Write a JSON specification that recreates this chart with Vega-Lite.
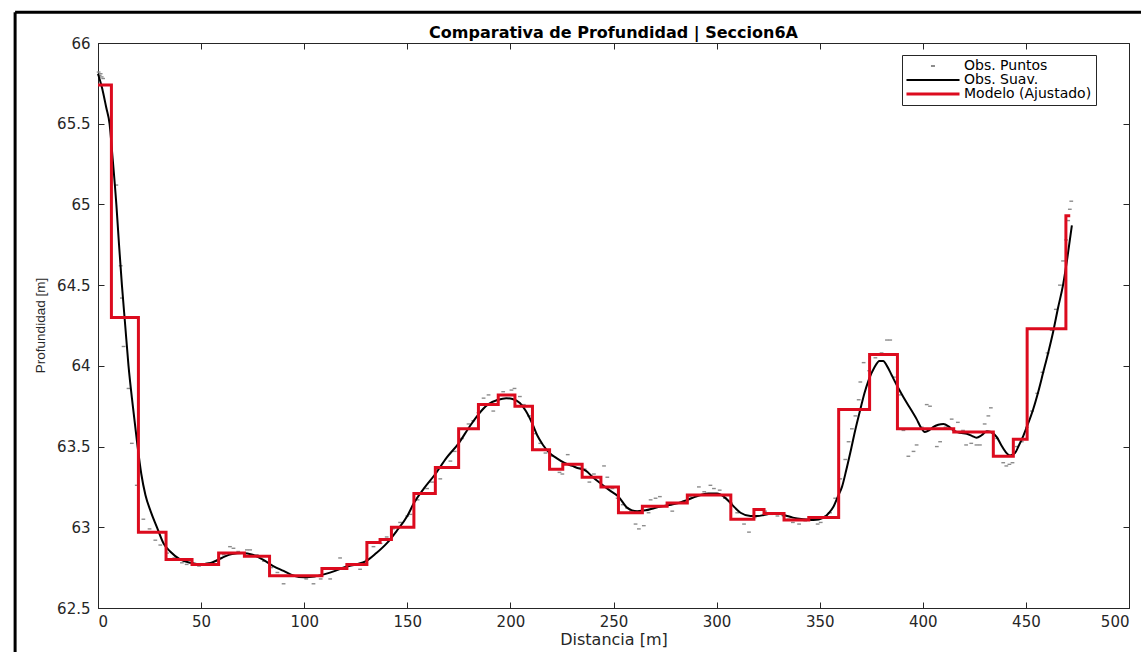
{
  "$schema": "https://vega.github.io/schema/vega-lite/v6.json",
  "width": 1031,
  "height": 565,
  "autosize": "none",
  "padding": {"left": 98, "top": 43, "right": 12, "bottom": 44},
  "background": "white",
  "title": {"text": "Comparativa de Profundidad | Seccion6A", "font": "DejaVu Sans", "fontSize": 16, "fontWeight": "bold", "color": "#000000", "anchor": "middle", "offset": 5, "dy": 35},
  "config": {
    "view": {"stroke": "#262626", "strokeWidth": 1},
    "axis": {"labelFont": "DejaVu Sans", "labelFontSize": 15, "labelColor": "#262626", "titleFont": "DejaVu Sans", "titleFontSize": 16, "titleFontWeight": "normal", "titleColor": "#262626", "domainColor": "#262626", "tickColor": "#262626", "gridColor": "#e3e3e3", "gridWidth": 1},
    "legend": {"labelFont": "DejaVu Sans", "labelFontSize": 14, "labelColor": "#000000"}
  },
  "datasets": {
    "obs": [
      {"d": 0.3, "v": 65.82}, {"d": 0.8, "v": 65.8}, {"d": 1.3, "v": 65.81}, {"d": 1.8, "v": 65.79}, {"d": 2.5, "v": 65.78},
      {"d": 8.9, "v": 65.12}, {"d": 11.0, "v": 64.62}, {"d": 11.6, "v": 64.42}, {"d": 12.4, "v": 64.12}, {"d": 14.8, "v": 63.86},
      {"d": 16.4, "v": 63.52}, {"d": 18.8, "v": 63.26}, {"d": 22.0, "v": 63.05}, {"d": 25.0, "v": 62.99}, {"d": 27.8, "v": 62.92},
      {"d": 30.2, "v": 62.89}, {"d": 33.5, "v": 62.84}, {"d": 37.0, "v": 62.81}, {"d": 40.7, "v": 62.78}, {"d": 43.0, "v": 62.77},
      {"d": 46.0, "v": 62.77}, {"d": 49.0, "v": 62.76}, {"d": 53.0, "v": 62.78}, {"d": 57.0, "v": 62.79}, {"d": 61.0, "v": 62.83},
      {"d": 64.0, "v": 62.88}, {"d": 65.7, "v": 62.87}, {"d": 68.0, "v": 62.85}, {"d": 72.2, "v": 62.86}, {"d": 73.8, "v": 62.86},
      {"d": 77.0, "v": 62.83}, {"d": 80.5, "v": 62.79}, {"d": 84.0, "v": 62.75}, {"d": 87.0, "v": 62.72}, {"d": 90.0, "v": 62.65},
      {"d": 94.8, "v": 62.7}, {"d": 98.0, "v": 62.69}, {"d": 101.0, "v": 62.68}, {"d": 104.5, "v": 62.65}, {"d": 108.0, "v": 62.68},
      {"d": 112.6, "v": 62.68}, {"d": 115.0, "v": 62.74}, {"d": 117.4, "v": 62.81}, {"d": 121.0, "v": 62.76}, {"d": 124.0, "v": 62.77},
      {"d": 127.1, "v": 62.74}, {"d": 130.5, "v": 62.8}, {"d": 133.6, "v": 62.88}, {"d": 137.0, "v": 62.9}, {"d": 140.0, "v": 62.94},
      {"d": 143.0, "v": 62.99}, {"d": 146.5, "v": 63.03}, {"d": 150.0, "v": 63.07}, {"d": 151.6, "v": 63.08}, {"d": 155.0, "v": 63.17},
      {"d": 159.6, "v": 63.24}, {"d": 162.0, "v": 63.28}, {"d": 166.0, "v": 63.3}, {"d": 168.5, "v": 63.37}, {"d": 170.9, "v": 63.41},
      {"d": 173.0, "v": 63.47}, {"d": 176.5, "v": 63.55}, {"d": 179.7, "v": 63.64}, {"d": 182.0, "v": 63.66}, {"d": 184.5, "v": 63.71},
      {"d": 187.0, "v": 63.8}, {"d": 189.4, "v": 63.82}, {"d": 191.7, "v": 63.72}, {"d": 194.0, "v": 63.79}, {"d": 196.5, "v": 63.84},
      {"d": 198.5, "v": 63.82}, {"d": 200.5, "v": 63.85}, {"d": 202.0, "v": 63.86}, {"d": 204.6, "v": 63.81}, {"d": 206.5, "v": 63.76},
      {"d": 209.0, "v": 63.69}, {"d": 212.0, "v": 63.58}, {"d": 214.5, "v": 63.52}, {"d": 217.0, "v": 63.46}, {"d": 220.0, "v": 63.44},
      {"d": 223.8, "v": 63.34}, {"d": 225.2, "v": 63.33}, {"d": 227.8, "v": 63.45}, {"d": 230.5, "v": 63.39}, {"d": 233.5, "v": 63.37},
      {"d": 236.0, "v": 63.36}, {"d": 238.3, "v": 63.28}, {"d": 240.5, "v": 63.33}, {"d": 243.0, "v": 63.31}, {"d": 245.4, "v": 63.38},
      {"d": 247.0, "v": 63.31}, {"d": 249.5, "v": 63.24}, {"d": 252.0, "v": 63.18}, {"d": 254.5, "v": 63.14}, {"d": 256.5, "v": 63.12},
      {"d": 258.5, "v": 63.1}, {"d": 260.7, "v": 63.02}, {"d": 262.3, "v": 62.99}, {"d": 264.7, "v": 63.01}, {"d": 267.0, "v": 63.09},
      {"d": 268.0, "v": 63.17}, {"d": 270.4, "v": 63.18}, {"d": 272.5, "v": 63.19}, {"d": 275.0, "v": 63.13}, {"d": 278.5, "v": 63.1},
      {"d": 281.0, "v": 63.15}, {"d": 284.0, "v": 63.16}, {"d": 287.0, "v": 63.19}, {"d": 289.0, "v": 63.2}, {"d": 291.4, "v": 63.25},
      {"d": 294.0, "v": 63.22}, {"d": 297.0, "v": 63.26}, {"d": 298.7, "v": 63.24}, {"d": 301.5, "v": 63.23}, {"d": 304.0, "v": 63.18},
      {"d": 307.0, "v": 63.15}, {"d": 310.0, "v": 63.09}, {"d": 313.3, "v": 63.02}, {"d": 315.7, "v": 62.97}, {"d": 318.5, "v": 63.06},
      {"d": 322.0, "v": 63.11}, {"d": 323.5, "v": 63.1}, {"d": 326.5, "v": 63.08}, {"d": 329.5, "v": 63.07}, {"d": 332.5, "v": 63.07},
      {"d": 335.0, "v": 63.05}, {"d": 337.0, "v": 63.03}, {"d": 340.0, "v": 63.02}, {"d": 343.0, "v": 63.04}, {"d": 346.0, "v": 63.05},
      {"d": 349.0, "v": 63.02}, {"d": 350.5, "v": 63.03}, {"d": 353.0, "v": 63.07}, {"d": 355.0, "v": 63.09}, {"d": 357.5, "v": 63.18},
      {"d": 360.0, "v": 63.3}, {"d": 362.4, "v": 63.42}, {"d": 364.0, "v": 63.53}, {"d": 365.6, "v": 63.61}, {"d": 367.3, "v": 63.69},
      {"d": 368.9, "v": 63.79}, {"d": 369.7, "v": 63.9}, {"d": 371.3, "v": 64.02}, {"d": 374.0, "v": 63.97}, {"d": 377.0, "v": 64.05},
      {"d": 380.0, "v": 64.08}, {"d": 382.6, "v": 64.16}, {"d": 384.2, "v": 64.16}, {"d": 386.0, "v": 63.93}, {"d": 388.5, "v": 63.82},
      {"d": 390.6, "v": 63.6}, {"d": 393.0, "v": 63.44}, {"d": 395.5, "v": 63.47}, {"d": 397.0, "v": 63.51}, {"d": 399.5, "v": 63.62},
      {"d": 401.9, "v": 63.76}, {"d": 403.5, "v": 63.75}, {"d": 406.8, "v": 63.5}, {"d": 408.4, "v": 63.53}, {"d": 411.0, "v": 63.62},
      {"d": 414.0, "v": 63.67}, {"d": 417.0, "v": 63.65}, {"d": 419.5, "v": 63.6}, {"d": 421.0, "v": 63.51}, {"d": 423.5, "v": 63.52},
      {"d": 426.0, "v": 63.51}, {"d": 427.7, "v": 63.51}, {"d": 430.0, "v": 63.64}, {"d": 431.8, "v": 63.69}, {"d": 433.0, "v": 63.74},
      {"d": 436.0, "v": 63.55}, {"d": 439.0, "v": 63.4}, {"d": 440.5, "v": 63.38}, {"d": 442.0, "v": 63.39}, {"d": 443.5, "v": 63.4},
      {"d": 445.5, "v": 63.5}, {"d": 448.0, "v": 63.53}, {"d": 450.5, "v": 63.62}, {"d": 453.0, "v": 63.72}, {"d": 455.5, "v": 63.83},
      {"d": 458.0, "v": 63.96}, {"d": 460.5, "v": 64.08}, {"d": 462.5, "v": 64.22}, {"d": 464.5, "v": 64.35}, {"d": 466.5, "v": 64.5},
      {"d": 468.0, "v": 64.65}, {"d": 469.5, "v": 64.78}, {"d": 470.5, "v": 64.9}, {"d": 471.3, "v": 64.97}, {"d": 472.0, "v": 65.02}
    ],
    "smooth": [
      {"d": 0, "v": 65.81}, {"d": 2, "v": 65.72}, {"d": 4, "v": 65.6}, {"d": 5.6, "v": 65.5}, {"d": 7, "v": 65.3},
      {"d": 8.9, "v": 65.0}, {"d": 10.2, "v": 64.75}, {"d": 11.6, "v": 64.5}, {"d": 13.2, "v": 64.25}, {"d": 14.8, "v": 64.0},
      {"d": 17, "v": 63.74}, {"d": 19.2, "v": 63.5}, {"d": 21, "v": 63.33}, {"d": 23, "v": 63.2}, {"d": 25.5, "v": 63.1},
      {"d": 28.6, "v": 63.0}, {"d": 31.8, "v": 62.9}, {"d": 35, "v": 62.85}, {"d": 40, "v": 62.8}, {"d": 45, "v": 62.78},
      {"d": 50, "v": 62.77}, {"d": 55, "v": 62.78}, {"d": 60, "v": 62.81}, {"d": 65, "v": 62.835}, {"d": 70, "v": 62.84},
      {"d": 75, "v": 62.83}, {"d": 80, "v": 62.8}, {"d": 85, "v": 62.76}, {"d": 90, "v": 62.73}, {"d": 95, "v": 62.7},
      {"d": 100, "v": 62.69}, {"d": 105, "v": 62.695}, {"d": 110, "v": 62.71}, {"d": 115, "v": 62.73}, {"d": 120, "v": 62.755},
      {"d": 125, "v": 62.77}, {"d": 130, "v": 62.79}, {"d": 135, "v": 62.84}, {"d": 140, "v": 62.9}, {"d": 145, "v": 62.98},
      {"d": 150, "v": 63.07}, {"d": 153.2, "v": 63.15}, {"d": 158, "v": 63.24}, {"d": 163.6, "v": 63.33}, {"d": 169, "v": 63.43},
      {"d": 174.9, "v": 63.52}, {"d": 180, "v": 63.62}, {"d": 184.5, "v": 63.7}, {"d": 189, "v": 63.76}, {"d": 194, "v": 63.79},
      {"d": 198, "v": 63.8}, {"d": 201, "v": 63.795}, {"d": 204.6, "v": 63.77}, {"d": 207.5, "v": 63.72}, {"d": 210.7, "v": 63.64},
      {"d": 213, "v": 63.57}, {"d": 215.8, "v": 63.51}, {"d": 219, "v": 63.46}, {"d": 222.2, "v": 63.43}, {"d": 226, "v": 63.4},
      {"d": 230, "v": 63.38}, {"d": 233, "v": 63.365}, {"d": 236.7, "v": 63.35}, {"d": 240, "v": 63.31}, {"d": 243.9, "v": 63.27},
      {"d": 248, "v": 63.23}, {"d": 252.4, "v": 63.19}, {"d": 256.7, "v": 63.12}, {"d": 259, "v": 63.105}, {"d": 261.5, "v": 63.1},
      {"d": 265.6, "v": 63.105}, {"d": 270, "v": 63.12}, {"d": 273.6, "v": 63.13}, {"d": 278, "v": 63.14}, {"d": 281.6, "v": 63.15},
      {"d": 285.8, "v": 63.17}, {"d": 292.3, "v": 63.2}, {"d": 296, "v": 63.21}, {"d": 300.3, "v": 63.21}, {"d": 303.5, "v": 63.19},
      {"d": 306.8, "v": 63.15}, {"d": 309, "v": 63.12}, {"d": 311.6, "v": 63.09}, {"d": 316.4, "v": 63.07}, {"d": 320, "v": 63.07},
      {"d": 322.9, "v": 63.076}, {"d": 326, "v": 63.084}, {"d": 329.3, "v": 63.086}, {"d": 333, "v": 63.075}, {"d": 337, "v": 63.06},
      {"d": 342, "v": 63.05}, {"d": 347, "v": 63.045}, {"d": 352, "v": 63.06}, {"d": 354.5, "v": 63.09}, {"d": 356.8, "v": 63.13},
      {"d": 358.8, "v": 63.19}, {"d": 360.8, "v": 63.25}, {"d": 362.8, "v": 63.35}, {"d": 364.8, "v": 63.46}, {"d": 367.2, "v": 63.6},
      {"d": 369.7, "v": 63.73}, {"d": 371.7, "v": 63.83}, {"d": 373.7, "v": 63.91}, {"d": 376.5, "v": 63.99}, {"d": 379, "v": 64.03},
      {"d": 380.8, "v": 64.03}, {"d": 382.6, "v": 64.0}, {"d": 385, "v": 63.94}, {"d": 387.4, "v": 63.88}, {"d": 390, "v": 63.82},
      {"d": 392.3, "v": 63.77}, {"d": 394.7, "v": 63.72}, {"d": 397, "v": 63.67}, {"d": 399, "v": 63.62}, {"d": 401, "v": 63.59},
      {"d": 403, "v": 63.6}, {"d": 405, "v": 63.62}, {"d": 407.5, "v": 63.635}, {"d": 410, "v": 63.64}, {"d": 412.5, "v": 63.625},
      {"d": 414.8, "v": 63.6}, {"d": 418, "v": 63.585}, {"d": 421.3, "v": 63.58}, {"d": 424, "v": 63.565}, {"d": 426, "v": 63.555},
      {"d": 428.5, "v": 63.57}, {"d": 431, "v": 63.595}, {"d": 433, "v": 63.59}, {"d": 435.8, "v": 63.56}, {"d": 438, "v": 63.51},
      {"d": 440, "v": 63.47}, {"d": 442.3, "v": 63.445}, {"d": 444.7, "v": 63.46}, {"d": 446.7, "v": 63.51}, {"d": 448.7, "v": 63.565},
      {"d": 451, "v": 63.64}, {"d": 453.5, "v": 63.73}, {"d": 456, "v": 63.84}, {"d": 458.4, "v": 63.96}, {"d": 460.8, "v": 64.08},
      {"d": 463.2, "v": 64.21}, {"d": 465.6, "v": 64.36}, {"d": 468, "v": 64.5}, {"d": 470, "v": 64.66}, {"d": 472.3, "v": 64.87}
    ],
    "model": [
      {"d": 0, "v": 65.74}, {"d": 6.5, "v": 64.3}, {"d": 19.6, "v": 62.97}, {"d": 33, "v": 62.8}, {"d": 45.6, "v": 62.77},
      {"d": 58.5, "v": 62.84}, {"d": 71, "v": 62.82}, {"d": 83.2, "v": 62.7}, {"d": 108.6, "v": 62.745}, {"d": 120.7, "v": 62.77},
      {"d": 130.4, "v": 62.905}, {"d": 136.8, "v": 62.925}, {"d": 142.3, "v": 63.0}, {"d": 153.2, "v": 63.21}, {"d": 163.6, "v": 63.37},
      {"d": 174.9, "v": 63.61}, {"d": 184.5, "v": 63.76}, {"d": 194.1, "v": 63.82}, {"d": 202.2, "v": 63.75}, {"d": 210.7, "v": 63.48},
      {"d": 219, "v": 63.36}, {"d": 225.4, "v": 63.39}, {"d": 234.8, "v": 63.31}, {"d": 243.9, "v": 63.25}, {"d": 252.4, "v": 63.09},
      {"d": 264, "v": 63.13}, {"d": 276, "v": 63.15}, {"d": 285.8, "v": 63.2}, {"d": 306.9, "v": 63.05}, {"d": 318.1, "v": 63.11},
      {"d": 323, "v": 63.086}, {"d": 332.7, "v": 63.045}, {"d": 344.7, "v": 63.06}, {"d": 359.2, "v": 63.73}, {"d": 374.2, "v": 64.07},
      {"d": 387.7, "v": 63.61}, {"d": 415, "v": 63.59}, {"d": 434.2, "v": 63.44}, {"d": 443.9, "v": 63.545}, {"d": 450.6, "v": 64.23},
      {"d": 469.4, "v": 64.93}, {"d": 471.5, "v": 64.93}
    ],
    "frame": [
      {"d": -40.2, "d2": -40.2, "v": 66.19, "v2": 62.2},
      {"d": -40.2, "d2": 506, "v": 66.19, "v2": 66.19}
    ]
  },
  "layer": [
    {
      "data": {"name": "frame"},
      "mark": {"type": "rule", "color": "#000000", "strokeWidth": 3, "clip": false},
      "encoding": {
        "x": {"field": "d", "type": "quantitative", "scale": {"domain": [0, 500], "nice": false},
              "axis": {"orient": "top", "values": [0, 50, 100, 150, 200, 250, 300, 350, 400, 450, 500], "labels": false, "grid": false, "domain": false, "tickSize": -6, "title": null}},
        "x2": {"field": "d2"},
        "y": {"field": "v", "type": "quantitative", "scale": {"domain": [62.5, 66], "nice": false, "zero": false},
              "axis": {"orient": "right", "values": [62.5, 63, 63.5, 64, 64.5, 65, 65.5, 66], "labels": false, "grid": false, "domain": false, "tickSize": -6, "title": null}},
        "y2": {"field": "v2"}
      }
    },
    {
      "data": {"name": "obs"},
      "mark": {"type": "point", "shape": "M-1,0L1,0", "size": 14, "filled": false, "strokeWidth": 1.4, "opacity": 1},
      "encoding": {
        "x": {"field": "d", "type": "quantitative",
              "axis": {"orient": "bottom", "values": [0, 50, 100, 150, 200, 250, 300, 350, 400, 450, 500], "tickSize": -6, "labelPadding": 12, "title": "Distancia [m]", "titleY": 36, "titleBaseline": "alphabetic"}},
        "y": {"field": "v", "type": "quantitative",
              "axis": {"orient": "left", "values": [62.5, 63, 63.5, 64, 64.5, 65, 65.5, 66], "format": "~f", "tickSize": -6, "labelPadding": 14, "title": "Profundidad [m]", "titleFont": "Liberation Sans", "titleFontSize": 13.5, "titleX": -51, "titleY": 282, "titleAngle": 270, "titleBaseline": "bottom", "titleAlign": "center"}},
        "color": {"datum": "Obs. Puntos", "type": "nominal",
                  "scale": {"domain": ["Obs. Puntos", "Obs. Suav.", "Modelo (Ajustado)"], "range": ["#8c8c8c", "#000000", "#dc0b1e"]},
                  "legend": {"title": null, "orient": "none", "legendX": 804, "legendY": 12, "fillColor": "#ffffff", "strokeColor": "#262626", "padding": 4, "rowPadding": 0,
                             "symbolType": "M-4.08,0H4.08", "symbolSize": 169, "symbolOffset": 20, "labelOffset": 24,
                             "symbolDash": {"expr": "datum.value === 'Obs. Puntos' ? [0, 24.5, 4, 100] : [1, 0]"},
                             "symbolStrokeWidth": {"expr": "datum.value === 'Modelo (Ajustado)' ? 2.8 : 2"}}}
      }
    },
    {
      "data": {"name": "smooth"},
      "mark": {"type": "line", "strokeWidth": 2, "interpolate": "monotone"},
      "encoding": {
        "x": {"field": "d", "type": "quantitative", "axis": null},
        "y": {"field": "v", "type": "quantitative", "axis": null},
        "color": {"datum": "Obs. Suav.", "type": "nominal"}
      }
    },
    {
      "data": {"name": "model"},
      "mark": {"type": "line", "strokeWidth": 3, "interpolate": "step-after"},
      "encoding": {
        "x": {"field": "d", "type": "quantitative", "axis": null},
        "y": {"field": "v", "type": "quantitative", "axis": null},
        "color": {"datum": "Modelo (Ajustado)", "type": "nominal"}
      }
    }
  ],
  "resolve": {"axis": {"x": "independent", "y": "independent"}}
}
